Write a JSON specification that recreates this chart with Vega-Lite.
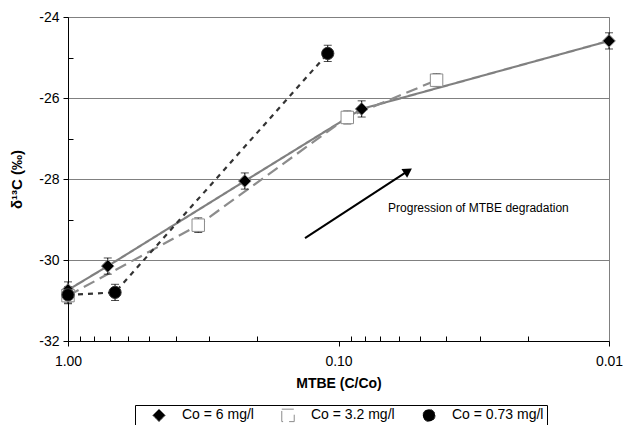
{
  "$schema": "https://vega.github.io/schema/vega-lite/v6.json",
  "width": 541,
  "height": 324,
  "autosize": "none",
  "padding": {"left": 68, "top": 17, "right": 14, "bottom": 84},
  "background": "white",
  "config": {
    "font": "Liberation Sans",
    "view": {"stroke": "#808080", "strokeWidth": 1},
    "axis": {"labelFont": "Liberation Sans", "titleFont": "Liberation Sans", "labelFontSize": 14, "labelColor": "black", "titleColor": "black", "domainColor": "black", "tickColor": "black", "titleFontSize": 14, "titleFontWeight": "bold"},
    "legend": {
      "orient": "none", "legendX": 67, "legendY": 388, "direction": "horizontal",
      "strokeColor": "black", "padding": 3, "labelFont": "Liberation Sans", "labelFontSize": 14, "labelColor": "black",
      "symbolStrokeWidth": 1, "columnPadding": 13, "labelOffset": 16, "symbolOffset": 14
    }
  },
  "datasets": {
    "pts": [
      {"series": "Co = 6 mg/l", "x": 1.0, "y": -30.74, "lo": -30.94, "hi": -30.54},
      {"series": "Co = 6 mg/l", "x": 0.713, "y": -30.15, "lo": -30.35, "hi": -29.95},
      {"series": "Co = 6 mg/l", "x": 0.222, "y": -28.05, "lo": -28.25, "hi": -27.85},
      {"series": "Co = 6 mg/l", "x": 0.0821, "y": -26.27, "lo": -26.47, "hi": -26.07},
      {"series": "Co = 6 mg/l", "x": 0.01, "y": -24.59, "lo": -24.79, "hi": -24.39},
      {"series": "Co = 3.2 mg/l", "x": 1.0, "y": -30.88, "lo": -31.08, "hi": -30.68},
      {"series": "Co = 3.2 mg/l", "x": 0.33, "y": -29.14, "lo": -29.32, "hi": -28.96},
      {"series": "Co = 3.2 mg/l", "x": 0.0928, "y": -26.48, "lo": -26.64, "hi": -26.32},
      {"series": "Co = 3.2 mg/l", "x": 0.0434, "y": -25.56, "lo": -25.72, "hi": -25.4},
      {"series": "Co = 0.73 mg/l", "x": 1.0, "y": -30.86, "lo": -31.06, "hi": -30.66},
      {"series": "Co = 0.73 mg/l", "x": 0.67, "y": -30.8, "lo": -31.0, "hi": -30.6},
      {"series": "Co = 0.73 mg/l", "x": 0.1096, "y": -24.9, "lo": -25.1, "hi": -24.7}
    ],
    "arrow": [
      {"x": 0.133, "y": -29.46},
      {"x": 0.0553, "y": -27.8}
    ],
    "arrowhead": [
      {"x": 0.0553, "y": -27.8}
    ],
    "label": [
      {"x": 0.0656, "y": -28.72, "text": "Progression of MTBE degradation"}
    ]
  },
  "layer": [
    {
      "data": {"name": "pts"},
      "mark": {"type": "line", "strokeWidth": 2.2},
      "encoding": {
        "x": {
          "field": "x", "type": "quantitative",
          "scale": {"type": "log", "domain": [0.01, 1], "reverse": true, "nice": false},
          "title": "MTBE (C/Co)",
          "axis": {
            "values": [1, 0.9, 0.8, 0.7, 0.6, 0.5, 0.4, 0.3, 0.2, 0.1, 0.09, 0.08, 0.07, 0.06, 0.05, 0.04, 0.03, 0.02, 0.01],
            "labelExpr": "datum.value == 1 ? '1.00' : (abs(datum.value - 0.1) < 1e-9 ? '0.10' : (abs(datum.value - 0.01) < 1e-9 ? '0.01' : ''))",
            "labelOverlap": false,
            "labelFlush": false,
            "labelPadding": 8,
            "tickSize": {"condition": {"test": "datum.value == 1 || abs(datum.value - 0.1) < 1e-9 || abs(datum.value - 0.01) < 1e-9", "value": 5}, "value": -5},
            "grid": false,
            "titlePadding": 8
          }
        },
        "y": {
          "field": "y", "type": "quantitative",
          "scale": {"domain": [-32, -24], "nice": false},
          "title": "δ¹³C (‰)",
          "axis": {
            "values": [-32, -31.5, -31, -30.5, -30, -29.5, -29, -28.5, -28, -27.5, -27, -26.5, -26, -25.5, -25, -24.5, -24],
            "labelExpr": "datum.value % 2 == 0 ? '' + datum.value : ''",
            "labelOverlap": false,
            "labelPadding": 4,
            "tickSize": {"condition": {"test": "datum.value % 2 == 0", "value": 5}, "value": -5},
            "grid": true,
            "gridColor": "#808080",
            "gridOpacity": {"condition": {"test": "datum.value % 2 == 0", "value": 1}, "value": 0},
            "titlePadding": 14,
            "titleFontSize": 15
          }
        },
        "stroke": {
          "field": "series", "type": "nominal",
          "scale": {"domain": ["Co = 6 mg/l", "Co = 3.2 mg/l", "Co = 0.73 mg/l"], "range": ["#808080", "#8c8c8c", "#333333"]},
          "title": null
        },
        "strokeDash": {
          "field": "series", "type": "nominal",
          "scale": {"domain": ["Co = 6 mg/l", "Co = 3.2 mg/l", "Co = 0.73 mg/l"], "range": [[1, 0], [12, 6], [5, 5]]},
          "title": null
        }
      }
    },
    {
      "data": {"name": "pts"},
      "mark": {"type": "errorbar", "ticks": {"size": 8, "thickness": 1}, "color": "black", "thickness": 1},
      "encoding": {
        "x": {"field": "x", "type": "quantitative", "title": "MTBE (C/Co)"},
        "y": {"field": "lo", "type": "quantitative", "title": "δ¹³C (‰)"},
        "y2": {"field": "hi"}
      }
    },
    {
      "data": {"name": "pts"},
      "mark": {"type": "point", "filled": false, "opacity": 1, "strokeWidth": 1},
      "encoding": {
        "x": {"field": "x", "type": "quantitative", "title": "MTBE (C/Co)"},
        "y": {"field": "y", "type": "quantitative", "title": "δ¹³C (‰)"},
        "shape": {
          "field": "series", "type": "nominal",
          "scale": {"domain": ["Co = 6 mg/l", "Co = 3.2 mg/l", "Co = 0.73 mg/l"], "range": ["diamond", "square", "circle"]},
          "title": null
        },
        "fill": {
          "field": "series", "type": "nominal",
          "scale": {"domain": ["Co = 6 mg/l", "Co = 3.2 mg/l", "Co = 0.73 mg/l"], "range": ["black", "white", "black"]},
          "title": null
        },
        "stroke": {
          "field": "series", "type": "nominal",
          "title": null
        },
        "size": {
          "field": "series", "type": "nominal",
          "scale": {"domain": ["Co = 6 mg/l", "Co = 3.2 mg/l", "Co = 0.73 mg/l"], "range": [160, 150, 190]},
          "title": null
        }
      }
    },
    {
      "data": {"name": "arrow"},
      "mark": {"type": "line", "color": "black", "strokeWidth": 2},
      "encoding": {
        "x": {"field": "x", "type": "quantitative", "title": "MTBE (C/Co)"},
        "y": {"field": "y", "type": "quantitative", "title": "δ¹³C (‰)"}
      }
    },
    {
      "data": {"name": "arrowhead"},
      "mark": {"type": "point", "shape": "triangle-right", "filled": true, "color": "black", "size": 110, "angle": 327, "opacity": 1},
      "encoding": {
        "x": {"field": "x", "type": "quantitative", "title": "MTBE (C/Co)"},
        "y": {"field": "y", "type": "quantitative", "title": "δ¹³C (‰)"}
      }
    },
    {
      "data": {"name": "label"},
      "mark": {"type": "text", "align": "left", "baseline": "middle", "fontSize": 12, "font": "Liberation Sans", "color": "black"},
      "encoding": {
        "x": {"field": "x", "type": "quantitative", "title": "MTBE (C/Co)"},
        "y": {"field": "y", "type": "quantitative", "title": "δ¹³C (‰)"},
        "text": {"field": "text"}
      }
    }
  ],
  "encoding": {}
}
